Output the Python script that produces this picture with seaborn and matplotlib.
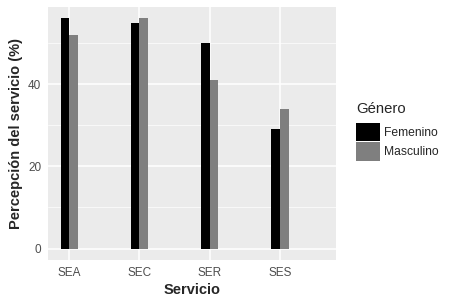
import pandas as pd
import numpy as np
import matplotlib.pyplot as plt
import seaborn as sns
from matplotlib.ticker import MultipleLocator

servicios = ['SEA', 'SEC', 'SER', 'SES']
femenino = [56, 55, 50, 29]
masculino = [52, 56, 41, 34]
generos = ['Femenino', 'Masculino']

df = pd.DataFrame({
    'Servicio': servicios * 2,
    'valor': femenino + masculino,
    'Género': [generos[0]] * 4 + [generos[1]] * 4,
})

sns.set_style('white')
plt.rcParams['font.family'] = ['Liberation Sans', 'DejaVu Sans']

fig = plt.figure(figsize=(4.53, 3.02), dpi=100)
ax = fig.add_axes([0.1066, 0.139, 0.635, 0.838])

sns.barplot(data=df, x='Servicio', y='valor', hue='Género',
            palette=['black', '#7f7f7f'], width=0.25, gap=0,
            saturation=1, linewidth=0, ax=ax)

ax.set_facecolor('#EBEBEB')
ax.set_xlim(-0.3, 3.8)
ax.set_ylim(-2.8, 58.8)
ax.yaxis.set_major_locator(MultipleLocator(20))
ax.yaxis.set_minor_locator(MultipleLocator(10))
ax.grid(which='major', color='white', linewidth=1.1)
ax.grid(which='minor', axis='y', color='white', linewidth=0.5)
ax.set_axisbelow(True)
for s in ax.spines.values():
    s.set_visible(False)
ax.tick_params(axis='both', which='major', length=3, width=0.8, color='#333333',
               labelsize=8.5, labelcolor='#4D4D4D', pad=2)
ax.tick_params(which='minor', length=0)

ax.set_xlabel('Servicio', fontsize=10.5, fontweight='bold', labelpad=3)
ax.set_ylabel('Percepción del servicio (%)', fontsize=10.5, fontweight='bold', labelpad=4)

leg = ax.legend(title='Género', loc='upper left', bbox_to_anchor=(1.07, 0.625),
                frameon=False, fontsize=8.7, title_fontsize=10.7,
                handlelength=2.0, handleheight=2.0, labelspacing=0.05,
                handletextpad=0.35, borderaxespad=0, borderpad=0)
leg._legend_box.align = 'left'
leg._legend_box.sep = 5

fig.savefig('out.png', dpi=100)
